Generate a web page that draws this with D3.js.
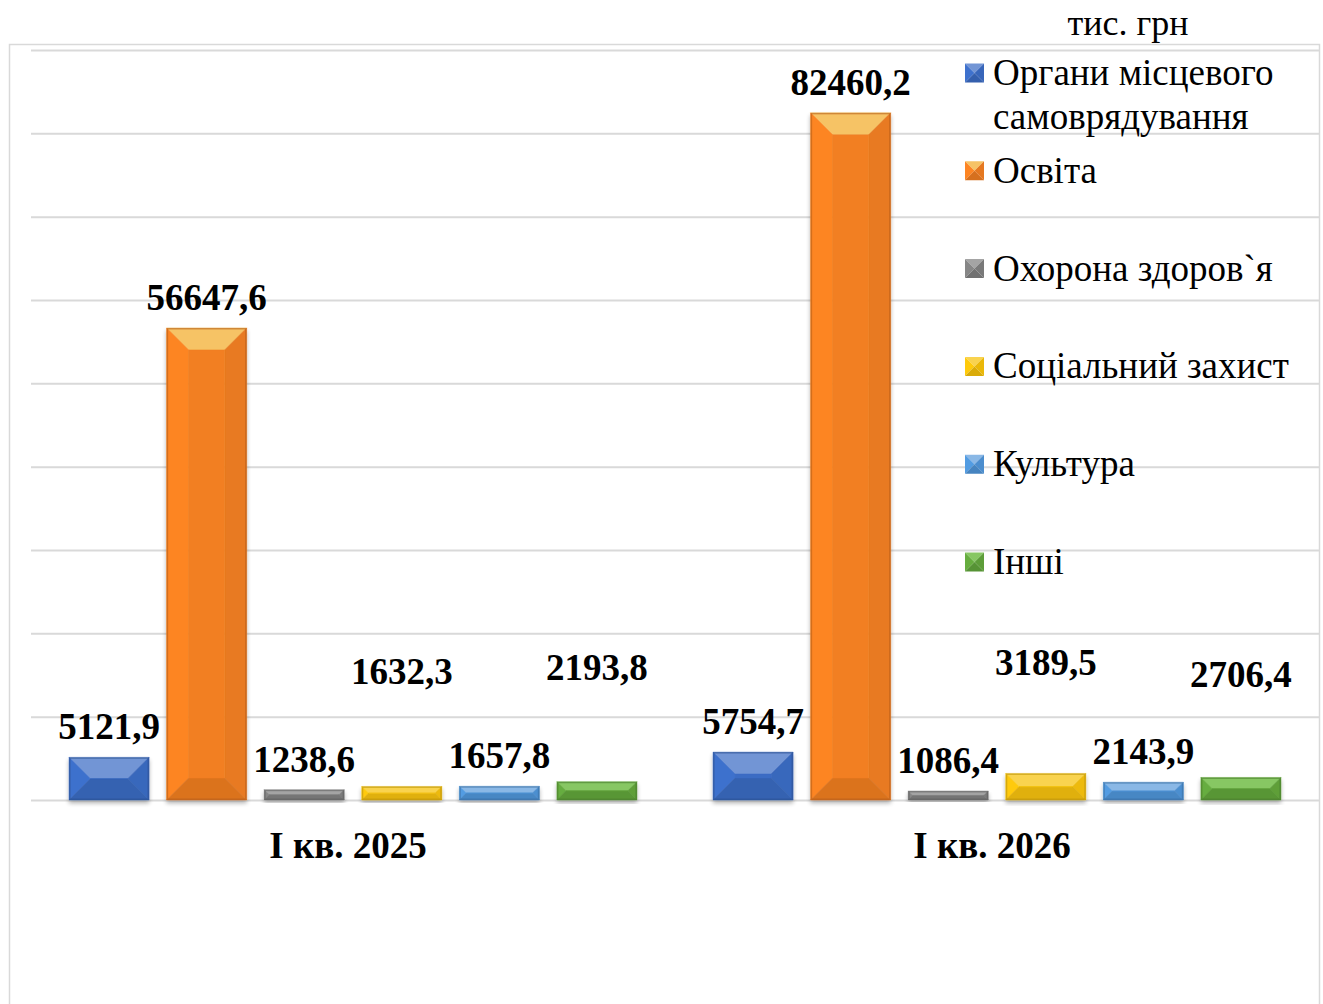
<!DOCTYPE html>
<html>
<head>
<meta charset="utf-8">
<script src="https://cdn.jsdelivr.net/npm/d3@7"></script>
<style>
  body { margin: 0; background: #fff; }
  svg text { font-family: "Liberation Serif", "Times New Roman", serif; }
</style>
</head>
<body>
<svg id="chart" width="1323" height="1004"></svg>
<script>
// data
const periods = ["І кв. 2025", "І кв. 2026"];
const seriesNames = ["Органи місцевого самоврядування", "Освіта", "Охорона здоров`я", "Соціальний захист", "Культура", "Інші"];
const values2025 = [5121.9, 56647.6, 1238.6, 1632.3, 1657.8, 2193.8];
const values2026 = [5754.7, 82460.2, 1086.4, 3189.5, 2143.9, 2706.4];
const gridTicks = [0, 10000, 20000, 30000, 40000, 50000, 60000, 70000, 80000, 90000];
const unitLabel = "тис. грн";

// label nudges (px), same order as series
const labelLift = [[0, 0, 0, 84, 0, 84], [0, 0, 0, 80, 0, 72]];
const colors = ["#3b6cc4", "#f27f22", "#808080", "#f7c20a", "#4f95d9", "#62a63c"];

const svg = d3.select("#chart");

// outer frame
svg.append("rect")
    .attr("x", 9.5).attr("y", 44.5)
    .attr("width", 1310).attr("height", 980)
    .attr("fill", "none")
    .attr("stroke", "#d9d9d9")
    .attr("stroke-width", 1.5);

svg.append("text")
    .attr("x", 1128).attr("y", 35)
    .attr("text-anchor", "middle")
    .attr("font-size", 36)
    .text(unitLabel);

let defs = svg.append("defs");
let shadow = defs.append("filter").attr("id", "shadow")
    .attr("x", "-20%").attr("y", "-20%").attr("width", "140%").attr("height", "140%");
shadow.append("feGaussianBlur").attr("in", "SourceAlpha").attr("stdDeviation", 2);
shadow.append("feOffset").attr("dx", 0).attr("dy", 3).attr("result", "b");
shadow.append("feComponentTransfer").append("feFuncA").attr("type", "linear").attr("slope", 0.3);
let merge = shadow.append("feMerge");
merge.append("feMergeNode");
merge.append("feMergeNode").attr("in", "SourceGraphic");

const y = d3.scaleLinear().domain([0, 90000]).range([800, 50]);
const x0 = d3.scaleBand().domain(periods).range([31, 1319]);
const x1 = d3.scaleBand().domain(seriesNames).range([0, x0.bandwidth()])
    .paddingInner(0.18).paddingOuter(0.39);

// gridlines
svg.append("g")
    .attr("transform", "translate(31,0)")
    .call(d3.axisLeft(y).tickValues(gridTicks).tickSize(-1288).tickFormat(""))
    .call(g => g.select(".domain").remove())
    .call(g => g.selectAll(".tick line").attr("stroke", "#d9d9d9").attr("stroke-width", 2));

function topShade(c) {
    let hsl = d3.hsl(c);
    hsl.l = Math.min(0.82, hsl.l + 0.14);
    if (hsl.h > 15 && hsl.h < 45) hsl.h += 12; // orange tops lean yellow
    return hsl + "";
}

// beveled bar, like the office "3D" look
function bevelBar(g, x, top, w, h, color) {
    let c = d3.color(color);
    let b = Math.min(22, h / 2, w / 2);
    let x2 = x + w, bot = top + h;
    let faces = [
        { pts: [[x, top], [x2, top], [x2 - b, top + b], [x + b, top + b]], fill: topShade(c) },
        { pts: [[x, top], [x + b, top + b], [x + b, bot - b], [x, bot]], fill: c.brighter(0.12) },
        { pts: [[x2, top], [x2, bot], [x2 - b, bot - b], [x2 - b, top + b]], fill: c.darker(0.12) },
        { pts: [[x, bot], [x + b, bot - b], [x2 - b, bot - b], [x2, bot]], fill: c.darker(0.28) },
        { pts: [[x + b, top + b], [x2 - b, top + b], [x2 - b, bot - b], [x + b, bot - b]], fill: c }
    ];
    let bar = g.append("g").attr("filter", "url(#shadow)");
    faces.forEach(f => {
        bar.append("polygon")
            .attr("points", f.pts.map(p => p.join(",")).join(" "))
            .attr("fill", f.fill)
            .attr("stroke", f.fill)
            .attr("stroke-width", 0.5);
    });
    bar.append("rect")
        .attr("x", x + 0.75).attr("y", top + 0.75)
        .attr("width", w - 1.5).attr("height", Math.max(0, h - 1.5))
        .attr("fill", "none")
        .attr("stroke", c.darker(0.8))
        .attr("stroke-opacity", 0.6)
        .attr("stroke-width", 1.5);
}

const groupValues = [values2025, values2026];

periods.forEach((p, gi) => {
    let g = svg.append("g").attr("transform", "translate(" + x0(p) + ",0)");
    seriesNames.forEach((s, i) => {
        let v = groupValues[gi][i];
        bevelBar(g, x1(s), y(v), x1.bandwidth(), y(0) - y(v), colors[i]);
    });
    seriesNames.forEach((s, i) => {
        let v = groupValues[gi][i];
        g.append("text")
            .attr("x", x1(s) + x1.bandwidth() / 2)
            .attr("y", y(v) - 18 - labelLift[gi][i])
            .attr("text-anchor", "middle")
            .attr("font-size", 37)
            .attr("font-weight", "bold")
            .text(d3.format(".1f")(v).replace(".", ","));
    });
    g.append("text")
        .attr("x", x0.bandwidth() / 2 - 5)
        .attr("y", 858)
        .attr("text-anchor", "middle")
        .attr("font-size", 37)
        .attr("font-weight", "bold")
        .text(p);
});

// legend
let legend = svg.append("g").attr("transform", "translate(965,0)");
const legendY = d3.scalePoint().domain(seriesNames).range([73, 562]);
const legendLines = [["Органи місцевого", "самоврядування"], ["Освіта"], ["Охорона здоров`я"], ["Соціальний захист"], ["Культура"], ["Інші"]];
seriesNames.forEach((s, i) => {
    let cy = legendY(s);
    let c = d3.color(colors[i]);
    let sz = 19, h = sz / 2;
    let lg = legend.append("g").attr("transform", "translate(0," + (cy - h) + ")");
    let tri = [
        { pts: [[0, 0], [sz, 0], [h, h]], fill: topShade(c) },
        { pts: [[0, 0], [h, h], [0, sz]], fill: c.brighter(0.12) },
        { pts: [[sz, 0], [sz, sz], [h, h]], fill: c.darker(0.15) },
        { pts: [[0, sz], [h, h], [sz, sz]], fill: c.darker(0.35) }
    ];
    tri.forEach(t => lg.append("polygon")
        .attr("points", t.pts.map(p => p.join(",")).join(" "))
        .attr("fill", t.fill));
    legendLines[i].forEach((line, j) => {
        legend.append("text")
            .attr("x", 28)
            .attr("y", cy + 12 + j * 44)
            .attr("font-size", 37)
            .text(line);
    });
});
</script>
</body>
</html>
